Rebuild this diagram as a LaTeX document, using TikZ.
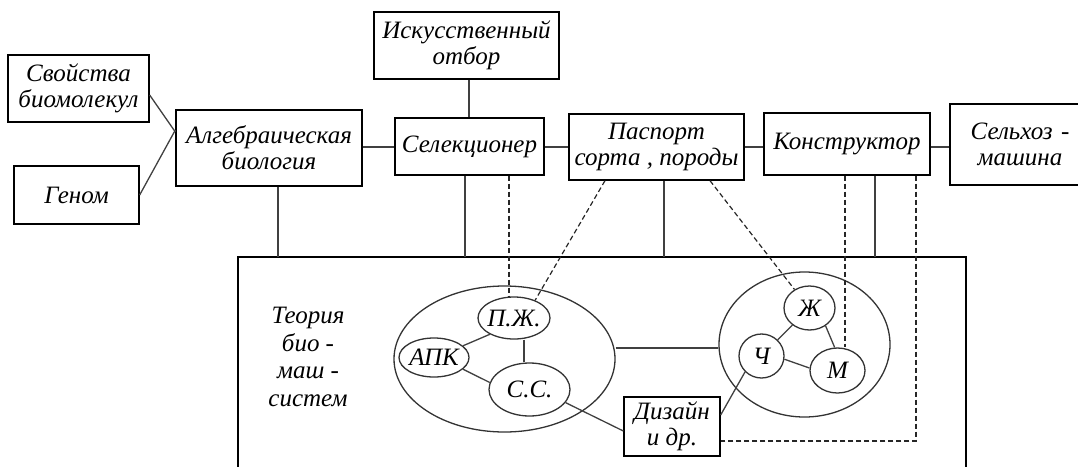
\documentclass[tikz,border=0pt]{standalone}
\usepackage{fontspec}
\setmainfont{Liberation Serif}
\usetikzlibrary{shapes.geometric}
\begin{document}
\begin{tikzpicture}[x=1pt,y=-1pt,
  every node/.style={font=\fontsize{25}{26}\selectfont\itshape},
  box/.style={draw=black, line width=1.3pt, rectangle, inner sep=0pt, align=center},
  oval/.style={draw=black!80, line width=1.3pt, ellipse, inner sep=0pt},
  conn/.style={draw=black!75, line width=1.3pt},
  dsh/.style={draw=black!85, line width=1.2pt, dash pattern=on 5pt off 3pt}]
\useasboundingbox (0,0) rectangle (1078,466);
% top boxes
\node[box, minimum width=141pt, minimum height=67pt] (svo) at (78.5,88.5) {Свойства\\биомолекул};
\node[box, minimum width=125pt, minimum height=58pt] (gen) at (76.5,195) {Геном};
\node[box, minimum width=186pt, minimum height=76pt] (alg) at (269,148) {Алгебраическая\\биология};
\node[box, minimum width=185pt, minimum height=67pt] (isk) at (466.5,45.5) {Искусственный\\отбор};
\node[box, minimum width=149pt, minimum height=57pt] (sel) at (469.5,146.5) {Селекционер};
\node[box, minimum width=175pt, minimum height=66pt] (pas) at (656.5,147) {Паспорт\\сорта , породы};
\node[box, minimum width=166pt, minimum height=62pt] (kon) at (847,144) {Конструктор};
\node[box, minimum width=140pt, minimum height=81pt, text width=132pt] (hoz) at (1020,144.5) {Сельхоз -\\машина};
% big frame
\coordinate (bigTL) at (238,257);
\coordinate (bigTR) at (966,257);
\draw[line width=1.3pt] (238,470) -- (bigTL) -- (bigTR) -- (966,470);
% theory text
\node[align=center, font=\fontsize{25}{27.7}\selectfont\itshape] (teo) at (308,357) {Теория\\био -\\маш -\\систем};
% ellipses
\node[oval, minimum width=221pt, minimum height=146pt] (le) at (504.5,359) {};
\node[oval, minimum width=171pt, minimum height=145pt] (re) at (804.5,344.5) {};
\node[oval, minimum width=72pt, minimum height=42pt] (pz) at (514,318) {\makebox[0pt]{П.Ж.}};
\node[oval, minimum width=70pt, minimum height=39pt] (apk) at (434,357.5) {\makebox[0pt]{АПК}};
\node[oval, minimum width=81pt, minimum height=53pt] (ss) at (529.5,389.5) {\makebox[0pt]{С.С.}};
\node[oval, minimum width=51pt, minimum height=44pt] (zh) at (809.5,308) {\makebox[0pt]{Ж}};
\node[oval, minimum width=45pt, minimum height=44pt] (ch) at (761.5,356) {\makebox[0pt]{Ч}};
\node[oval, minimum width=55pt, minimum height=45pt] (m) at (837.5,370.5) {\makebox[0pt]{М}};
\node[box, minimum width=96pt, minimum height=59pt] (diz) at (672,426.5) {Дизайн\\и др.};
% connectors top
\draw[conn] ([yshift=-6.5pt]svo.east) -- ([yshift=16pt]alg.west);
\draw[conn] (gen.east) -- ([yshift=18pt]alg.west);
\draw[conn] ([yshift=1pt]alg.east) -- ([yshift=1pt]alg.east -| sel.west);
\draw[conn] ([yshift=-0.5pt]sel.east) -- ([yshift=-0.5pt]sel.east -| pas.west);
\draw[conn] (pas.east) -- (pas.east -| kon.west);
\draw[conn] ([yshift=-3pt]kon.east) -- ([yshift=-3pt]kon.east -| hoz.west);
\draw[conn] ([xshift=2.5pt]isk.south) -- ([xshift=2.5pt]isk.south |- sel.north);
% verticals to frame
\draw[conn] ([xshift=9pt]alg.south) -- ([xshift=9pt]alg.south |- bigTL);
\draw[conn] ([xshift=-4.5pt]sel.south) -- ([xshift=-4.5pt]sel.south |- bigTL);
\draw[conn] ([xshift=7.5pt]pas.south) -- ([xshift=7.5pt]pas.south |- bigTL);
\draw[conn] ([xshift=28pt]kon.south) -- ([xshift=28pt]kon.south |- bigTR);
% dashed
\draw[dsh] ([xshift=39.5pt]sel.south) -- ([xshift=39.5pt]sel.south |- pz.north);
\draw[dsh] ([xshift=-51.5pt]pas.south) -- (pz.40);
\draw[dsh] ([xshift=53.5pt]pas.south) -- (zh.129);
\draw[dsh] ([xshift=-2pt]kon.south) -- ([xshift=-2pt]kon.south |- m.north);
\draw[dsh] ([xshift=69pt]kon.south) |- ([yshift=-14.5pt]diz.east);
% inner connectors
\draw[conn] ([yshift=11pt]le.east) -- ([yshift=11pt]le.east -| re.west);
\draw[conn] (pz.214) -- (apk.22);
\draw[conn] ([xshift=10pt]pz.south) -- ([xshift=10pt]pz.south |- ss.north);
\draw[conn] (apk.-22) -- (ss.170);
\draw[conn] (ss.-20) -- ([yshift=-4.5pt]diz.west);
\draw[conn] (zh) -- (ch);
\draw[conn] (zh.-48) -- (m.97);
\draw[conn] (ch.-8) -- (m.175);
\draw[conn] (ch.224) -- ([yshift=11.5pt]diz.east);
\end{tikzpicture}
\end{document}
